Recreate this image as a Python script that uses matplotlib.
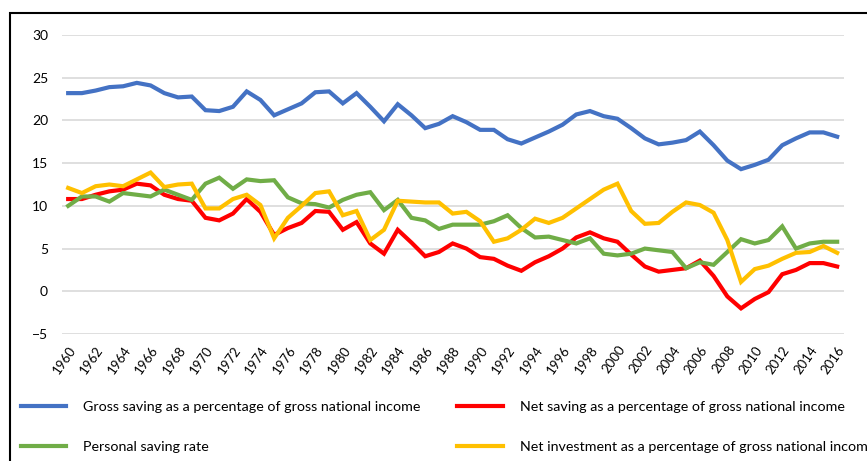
import matplotlib.pyplot as plt
from matplotlib.patches import Rectangle
from matplotlib.lines import Line2D

plt.rcParams["font.family"] = ["Lato", "DejaVu Sans"]

years = list(range(1960, 2017))

gross_saving = [
    23.2, 23.2, 23.5, 23.9, 24.0, 24.4, 24.1, 23.2, 22.7, 22.8,
    21.2, 21.1, 21.6, 23.4, 22.4, 20.6, 21.3, 22.0, 23.3, 23.4,
    22.0, 23.2, 21.6, 19.9, 21.9, 20.6, 19.1, 19.6, 20.5, 19.8,
    18.9, 18.9, 17.8, 17.3, 18.0, 18.7, 19.5, 20.7, 21.1, 20.5,
    20.2, 19.1, 17.9, 17.2, 17.4, 17.7, 18.7, 17.1, 15.3, 14.3,
    14.8, 15.4, 17.1, 17.9, 18.6, 18.6, 18.1,
]
net_saving = [
    10.8, 10.8, 11.3, 11.7, 11.9, 12.6, 12.4, 11.3, 10.8, 10.6,
    8.6, 8.3, 9.1, 10.8, 9.3, 6.6, 7.4, 8.0, 9.4, 9.3,
    7.2, 8.1, 5.6, 4.4, 7.2, 5.7, 4.1, 4.6, 5.6, 5.0,
    4.0, 3.8, 3.0, 2.4, 3.4, 4.1, 5.0, 6.3, 6.9, 6.2,
    5.8, 4.3, 2.9, 2.3, 2.5, 2.7, 3.6, 1.8, -0.6, -2.0,
    -0.9, -0.1, 2.0, 2.5, 3.3, 3.3, 2.9,
]
personal_saving = [
    10.0, 11.1, 11.1, 10.5, 11.5, 11.3, 11.1, 11.9, 11.3, 10.7,
    12.6, 13.3, 12.0, 13.1, 12.9, 13.0, 11.0, 10.3, 10.2, 9.8,
    10.7, 11.3, 11.6, 9.5, 10.7, 8.6, 8.3, 7.3, 7.8, 7.8,
    7.8, 8.2, 8.9, 7.4, 6.3, 6.4, 6.0, 5.6, 6.2, 4.4,
    4.2, 4.4, 5.0, 4.8, 4.6, 2.7, 3.4, 3.1, 4.6, 6.1,
    5.6, 6.0, 7.6, 5.0, 5.6, 5.8, 5.8,
]
net_investment = [
    12.1, 11.5, 12.3, 12.5, 12.3, 13.1, 13.9, 12.2, 12.5, 12.6,
    9.7, 9.7, 10.8, 11.3, 10.1, 6.2, 8.6, 10.0, 11.5, 11.7,
    8.9, 9.4, 6.0, 7.2, 10.6, 10.5, 10.4, 10.4, 9.1, 9.3,
    8.2, 5.8, 6.2, 7.2, 8.5, 8.0, 8.6, 9.7, 10.8, 11.9,
    12.6, 9.4, 7.9, 8.0, 9.3, 10.4, 10.1, 9.2, 6.0, 1.1,
    2.6, 3.0, 3.8, 4.5, 4.6, 5.3, 4.5,
]

labels = [
    "Gross saving as a percentage of gross national income",
    "Net saving as a percentage of gross national income",
    "Personal saving rate",
    "Net investment as a percentage of gross national income",
]
colors = ["#4472C4", "#FF0000", "#70AD47", "#FFC000"]
series = [gross_saving, net_saving, personal_saving, net_investment]

fig = plt.figure(figsize=(8.67, 4.61), dpi=100)
ax = fig.add_axes([0.0715, 0.2755, 0.902, 0.6485])

for vals, c, lab in zip(series, colors, labels):
    ax.plot(years, vals, color=c, lw=3, label=lab, solid_joinstyle="miter")

ax.set_xlim(1959.55, 2016.5)
ax.set_ylim(-5, 30)
ax.set_yticks(range(-5, 31, 5))
ax.set_xticks(years[::2])
ax.set_xticklabels([str(y) for y in years[::2]], rotation=55, ha="right",
                   rotation_mode="anchor", fontsize=9.5)
ax.tick_params(axis="y", labelsize=10, length=0, pad=10)
ax.tick_params(axis="x", length=0, pad=7)
ax.grid(axis="y", color="#D9D9D9", lw=1.2)
ax.set_axisbelow(True)
for s in ax.spines.values():
    s.set_visible(False)

# outer border (cut off on the right and bottom)
fig.patches.append(Rectangle((10 / 867, -0.1), 1.2, 1 - 13 / 461 + 0.1,
                             transform=fig.transFigure, fill=False,
                             edgecolor="black", lw=1.5))

handles = [Line2D([], [], color=c, lw=3) for c in colors]
order = [0, 2, 1, 3]
fig.legend([handles[i] for i in order], [labels[i] for i in order],
           ncol=2, loc="upper left", bbox_to_anchor=(0.009, 0.158),
           frameon=False, fontsize=10.3, handlelength=3.15, handletextpad=1.2,
           labelspacing=1.95, columnspacing=2.6)

fig.savefig("out.png", dpi=100)
